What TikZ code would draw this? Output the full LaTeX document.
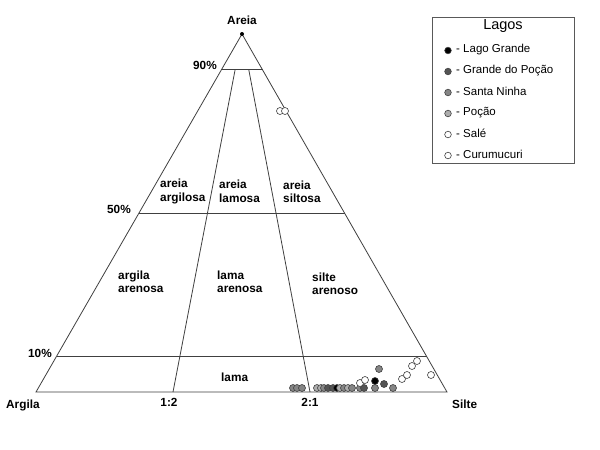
\documentclass[tikz,border=0pt]{standalone}
\usepackage{fontspec}
\setmainfont{Liberation Sans}
\usetikzlibrary{calc}

\definecolor{lgrande}{gray}{0}
\definecolor{gpocao}{gray}{0.33}
\definecolor{sninha}{gray}{0.52}
\definecolor{pocao}{gray}{0.68}
\definecolor{sale}{gray}{1}
\definecolor{curu}{gray}{1}

\begin{document}
\begin{tikzpicture}[x=1pt, y=-1pt,
    lbl/.style={font=\fontsize{11.8}{13.5}\selectfont\bfseries, inner sep=0pt},
    zone/.style={lbl, align=left, anchor=west},
    edge/.style={draw=black!75, line width=0.8pt},
    pt/.style={draw=black!75, line width=0.6pt},
    leg/.style={font=\fontsize{11.5}{13.5}\selectfont, inner sep=0pt, anchor=west}]
    \useasboundingbox[fill=white] (0,0) rectangle (600,450);

    % corners of the triangle
    \coordinate (sand) at (242,34);
    \coordinate (clay) at (36,392);
    \coordinate (silt) at (447,392);
    \coordinate (a90) at ($(clay)!0.9!(sand)$);
    \coordinate (b90) at ($(silt)!0.9!(sand)$);
    \coordinate (a50) at ($(clay)!0.5!(sand)$);
    \coordinate (b50) at ($(silt)!0.5!(sand)$);
    \coordinate (a10) at ($(clay)!0.1!(sand)$);
    \coordinate (b10) at ($(silt)!0.1!(sand)$);

    \draw[edge] (sand) -- (clay) -- (silt) -- cycle;
    \foreach \p in {90,50,10}
        \draw[edge] (a\p) -- (b\p);
    \draw[edge] ($(a90)!1/3!(b90)$) -- ($(clay)!1/3!(silt)$);
    \draw[edge] ($(a90)!2/3!(b90)$) -- ($(clay)!2/3!(silt)$);
    \fill (sand) circle (2pt);

    \node[lbl] (areia) at (242,20) {Areia};
    \node[lbl, anchor=east] (p90) at (217,65) {90\%};
    \node[lbl, anchor=east] (p50) at (131,209) {50\%};
    \node[lbl, anchor=east] (p10) at (52,353) {10\%};
    \node[lbl, anchor=west] (argila) at (6,405) {Argila};
    \node[lbl] (r12) at (169,402) {1:2};
    \node[lbl] (r21) at (310,402) {2:1};
    \node[lbl, anchor=west] (silte) at (452,404) {Silte};

    \node[zone] (aarg) at (160,191.5) {areia\\argilosa};
    \node[zone] (alam) at (219,191.5) {areia\\lamosa};
    \node[zone] (asil) at (283,192) {areia\\siltosa};
    \node[zone] (argar) at (118,282) {argila\\arenosa};
    \node[zone] (lamar) at (217,282) {lama\\arenosa};
    \node[zone] (silar) at (312,284) {silte\\arenoso};
    \node[zone] (lama) at (221,377) {lama};

    % samples
    \foreach \x/\y/\c in {293/388/sninha, 297/388/sninha, 302/388/sninha,
        317/388/pocao, 321/388/pocao, 324/388/sninha, 328/388/gpocao,
        333/388/gpocao, 337/388/lgrande, 340/388/pocao, 344/388/sninha,
        348/388/pocao, 352/388/sninha, 360/388/sninha, 364/388/gpocao,
        375/388/sninha, 393/388/sninha,
        360/383/sale, 365/380/sale, 375/381/lgrande, 384/384/gpocao,
        379/369/sninha, 402/379/curu, 407/375/curu, 412/366/curu,
        417/361/curu, 431/375/curu, 280/111/sale, 285/111/curu}
        \draw[pt, fill=\c] (\x,\y) circle (3.5pt);

    % legend
    \draw[draw=black!65, line width=0.8pt] (432,17) rectangle (574,163);
    \node[font=\fontsize{14.5}{16}\selectfont, inner sep=0pt] (lagos) at (503,26) {Lagos};
    \foreach \n/\c [count=\i] in {Lago Grande/lgrande, Grande do Poção/gpocao,
        Santa Ninha/sninha, Poção/pocao, Salé/sale, Curumucuri/curu} {
        \draw[pt, fill=\c] (448,29.5+21*\i) circle (3.3pt);
        \node[leg] (leg\i) at (456,28.5+21*\i) {- \n};
    }
\end{tikzpicture}
\end{document}
